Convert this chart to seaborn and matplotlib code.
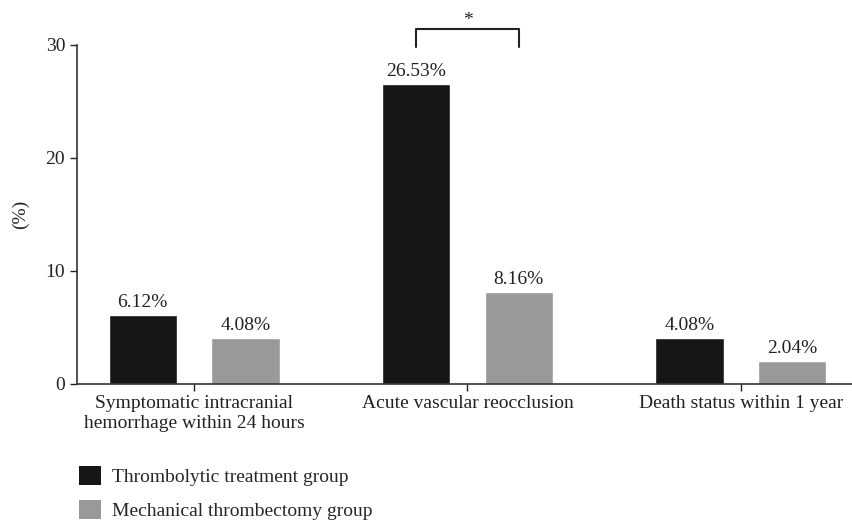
import matplotlib
matplotlib.use("Agg")
import matplotlib.pyplot as plt
import seaborn as sns
import pandas as pd
from matplotlib.patches import Patch

sns.set_theme(style="ticks")
plt.rcParams['font.family'] = ['Liberation Serif', 'DejaVu Serif']

categories = ["Symptomatic intracranial\nhemorrhage within 24 hours",
              "Acute vascular reocclusion",
              "Death status within 1 year"]
groups = ["Thrombolytic treatment group", "Mechanical thrombectomy group"]
thrombolytic = [6.12, 26.53, 4.08]
thrombectomy = [4.08, 8.16, 2.04]
colors = ["#161616", "#999999"]
fs = 14

df = pd.DataFrame({
    "category": categories * 2,
    "group": [groups[0]] * 3 + [groups[1]] * 3,
    "value": thrombolytic + thrombectomy,
})

fig = plt.figure(figsize=(8.53, 5.23), dpi=100)
ax = fig.add_axes([0.0903, 0.2658, 0.9097, 0.6482])

sns.barplot(data=df, x="category", y="value", hue="group", palette=colors,
            width=0.75, gap=0.333, saturation=1, errorbar=None, ax=ax,
            legend=False)

for cont in ax.containers:
    ax.bar_label(cont, fmt="%.2f%%", padding=3, fontsize=fs, color="#222222")

ax.set_xlim(-0.428, 2.41)
ax.set_ylim(0, 30)
ax.set_yticks([0, 10, 20, 30])
ax.set_xlabel("")
ax.set_ylabel("(%)", fontsize=fs, labelpad=12)
ax.tick_params(axis="both", labelsize=fs, colors="#222222", length=5, width=1)
ax.tick_params(axis="x", pad=3)
for s in ["top", "right"]:
    ax.spines[s].set_visible(False)
for s in ["left", "bottom"]:
    ax.spines[s].set_color("#333333")
    ax.spines[s].set_linewidth(1.2)

# significance bracket between bars of the second category
b1 = ax.containers[0][1]
b2 = ax.containers[1][1]
x1 = b1.get_x() + b1.get_width() / 2
x2 = b2.get_x() + b2.get_width() / 2
ax.plot([x1, x1, x2, x2], [29.8, 31.4, 31.4, 29.8], color="#222222", lw=1.5,
        clip_on=False)
ax.text((x1 + x2) / 2, 31.4, "*", ha="center", va="bottom", fontsize=fs,
        color="#222222")

handles = [Patch(facecolor=c, edgecolor="none") for c in colors]
fig.legend(handles, groups, loc="upper left", bbox_to_anchor=(0.084, 0.124),
           frameon=False, fontsize=fs, handlelength=1.1, handleheight=1.15,
           handletextpad=0.6, labelspacing=0.7, borderaxespad=0)

fig.savefig("out.png", dpi=100)
